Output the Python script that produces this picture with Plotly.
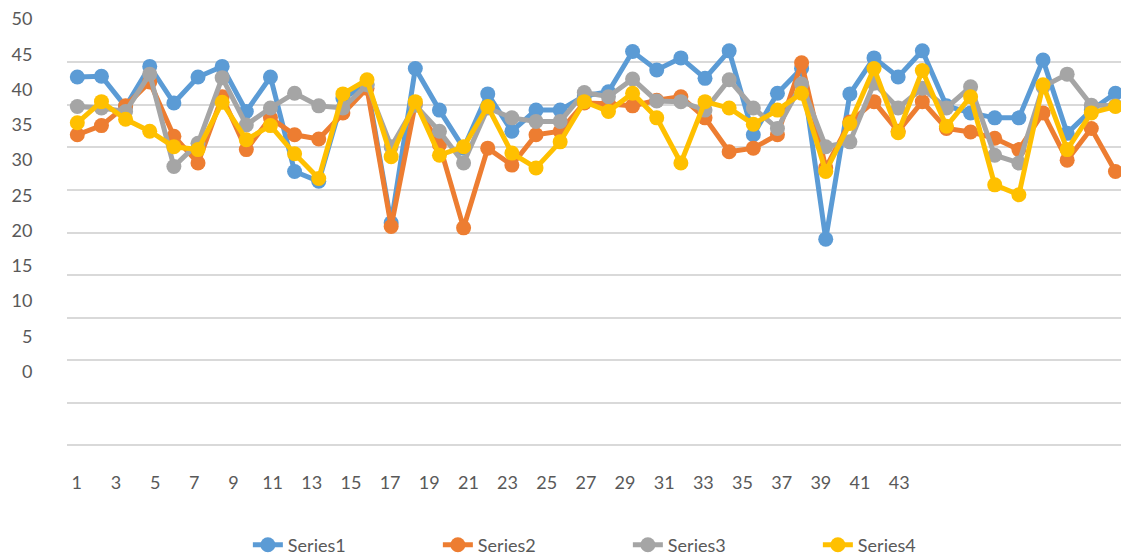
import plotly.graph_objects as go

categories = list(range(1, 45))
x_tick_labels = list(range(1, 44, 2))
y_tick_labels = list(range(0, 51, 5))

series1 = [41.8, 41.9, 37.6, 43.3, 38.1, 41.8, 43.3, 36.9, 41.8, 28.4,
           27.0, 38.8, 40.7, 21.1, 43.0, 37.1, 31.7, 39.4, 34.1, 37.1,
           37.1, 39.1, 39.7, 45.4, 42.8, 44.5, 41.6, 45.5, 33.6, 39.5,
           43.0, 18.8, 39.4, 44.5, 41.8, 45.5, 37.7, 36.7, 36.0, 36.0,
           44.2, 33.8, 37.1, 39.5]
series2 = [33.6, 34.9, 37.7, 41.1, 33.4, 29.6, 39.0, 31.5, 36.0, 33.6,
           33.0, 36.7, 40.2, 20.6, 38.0, 32.2, 20.4, 31.7, 29.3, 33.6,
           34.1, 38.1, 38.0, 37.7, 38.5, 39.0, 36.0, 31.2, 31.7, 33.6,
           43.8, 28.9, 35.4, 38.3, 34.1, 38.3, 34.5, 34.0, 33.1, 31.5,
           36.7, 30.0, 34.5, 28.4]
series3 = [37.6, 37.4, 36.9, 42.2, 29.1, 32.4, 41.7, 35.0, 37.4, 39.5,
           37.7, 37.4, 40.7, 31.9, 37.8, 34.1, 29.6, 37.4, 36.0, 35.5,
           35.5, 39.6, 39.0, 41.5, 38.4, 38.3, 37.1, 41.4, 37.4, 34.5,
           40.8, 31.9, 32.6, 40.9, 37.4, 40.2, 37.4, 40.4, 30.7, 29.6,
           40.4, 42.2, 37.8, 37.7]
series4 = [35.3, 38.3, 35.8, 34.1, 31.9, 31.5, 38.2, 32.9, 34.9, 30.9,
           27.4, 39.4, 41.4, 30.5, 38.3, 30.7, 31.9, 37.6, 31.0, 28.9,
           32.6, 38.3, 36.9, 39.5, 36.0, 29.6, 38.3, 37.4, 35.1, 37.1,
           39.5, 28.4, 35.2, 43.0, 33.9, 42.7, 34.8, 39.0, 26.5, 25.1,
           40.7, 31.5, 36.7, 37.6]

names = ["Series1", "Series2", "Series3", "Series4"]
colors = ["#5B9BD5", "#ED7D31", "#A5A5A5", "#FFC000"]
values = [series1, series2, series3, series4]

font_family = "Lato, 'Open Sans', sans-serif"
text_color = "#595959"
grid_color = "#D9D9D9"

fig = go.Figure()

# invisible helper trace so the overlaid label/grid axes get drawn
fig.add_trace(go.Scatter(
    x=x_tick_labels, y=[None] * len(x_tick_labels), xaxis="x2", yaxis="y2",
    mode="markers", showlegend=False, hoverinfo="skip",
))

for name, color, vals in zip(names, colors, values):
    fig.add_trace(go.Scatter(
        x=categories, y=vals, name=name, mode="lines+markers",
        line=dict(color=color, width=5),
        marker=dict(color=color, size=15),
        xaxis="x", yaxis="y",
    ))

fig.update_layout(
    width=1121, height=559,
    margin=dict(l=67, r=0, t=19, b=113, autoexpand=False),
    paper_bgcolor="white", plot_bgcolor="white",
    font=dict(family=font_family, size=18, color=text_color),
    showlegend=True,
    legend=dict(orientation="h", xref="paper", yref="paper",
                x=0.1716, y=-0.232, xanchor="left", yanchor="middle",
                entrywidth=145, font=dict(size=18, color=text_color),
                bgcolor="rgba(0,0,0,0)"),
    xaxis=dict(range=[0.573, 44.23], showgrid=False, zeroline=False,
               showticklabels=False, showline=False, fixedrange=True,
               automargin=False),
    xaxis2=dict(overlaying="x", anchor="y2", side="bottom",
                range=[0.4995, 54.33], tickmode="array",
                tickvals=x_tick_labels, ticktext=[str(v) for v in x_tick_labels],
                showgrid=False, zeroline=False, showline=False,
                ticks="outside", ticklen=20, tickcolor="rgba(0,0,0,0)",
                tickfont=dict(size=18, color=text_color), automargin=False),
    yaxis=dict(range=[-10.54, 50.02], tickmode="array",
               tickvals=y_tick_labels, ticktext=[str(v) for v in y_tick_labels],
               showgrid=False, zeroline=False, showline=False,
               ticks="outside", ticklen=30, tickcolor="rgba(0,0,0,0)",
               tickfont=dict(size=18, color=text_color), automargin=False),
    yaxis2=dict(overlaying="y", anchor="x2", side="left",
                range=[-0.08, 50.08], dtick=5, tick0=0,
                showgrid=True, gridcolor=grid_color, gridwidth=1.5,
                zeroline=True, zerolinecolor=grid_color, zerolinewidth=1.5,
                showline=False, showticklabels=False,
                automargin=False),
)

fig.write_html(
    "out.html",
    config={"displayModeBar": False},
    post_script="document.body.style.margin='0';document.body.style.padding='0';",
)
